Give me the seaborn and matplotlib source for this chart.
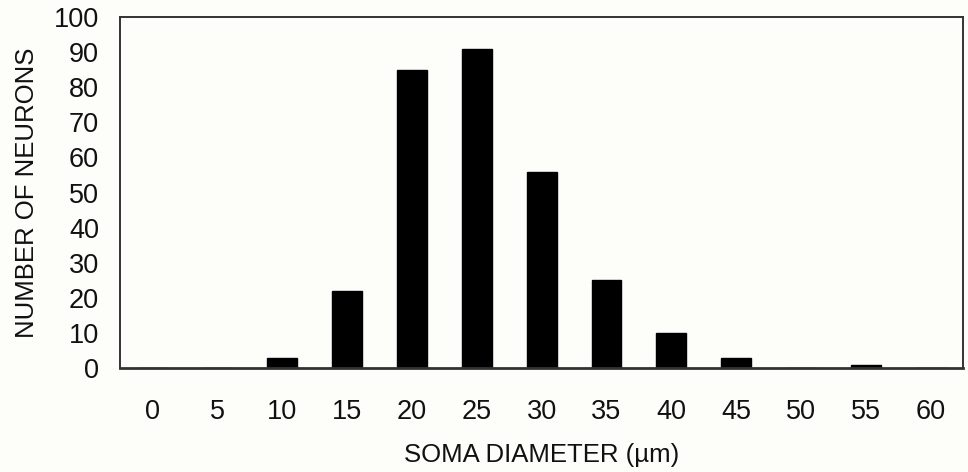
import matplotlib
matplotlib.use("Agg")
import matplotlib.pyplot as plt
import seaborn as sns
import pandas as pd

diameters = ["0", "5", "10", "15", "20", "25", "30", "35", "40", "45", "50", "55", "60"]
counts = [0, 0, 3, 22, 85, 91, 56, 25, 10, 3, 0, 1, 0]
y_ticks = [0, 10, 20, 30, 40, 50, 60, 70, 80, 90, 100]

df = pd.DataFrame({"diameter": diameters, "count": counts})

sns.set_theme(style="white")
plt.rcParams["font.family"] = ["Liberation Sans", "DejaVu Sans"]

fig = plt.figure(figsize=(9.68, 4.72), dpi=100, facecolor="#fdfdfa")
ax = fig.add_axes([0.124, 0.220, 0.871, 0.744])
ax.set_facecolor("#fdfdfa")

sns.barplot(data=df, x="diameter", y="count", order=diameters, color="black",
            width=0.46, saturation=1, ax=ax, edgecolor="black")

ax.set_xlim(-0.5, 12.5)
ax.set_ylim(0, 100)
ax.set_yticks(y_ticks)
ax.tick_params(axis="both", length=0, labelsize=19.5, colors="#111111")
ax.tick_params(axis="y", pad=15)
ax.tick_params(axis="x", pad=22)
ax.set_xlabel("SOMA DIAMETER (µm)", fontsize=18.5, color="#111111", labelpad=13)
ax.set_ylabel("NUMBER OF NEURONS", fontsize=18.5, color="#111111", labelpad=11)

for s in ax.spines.values():
    s.set_visible(True)
    s.set_color("#333333")
    s.set_linewidth(1.4)
ax.spines["bottom"].set_linewidth(2.0)

fig.savefig("out.png", dpi=100, facecolor=fig.get_facecolor())
